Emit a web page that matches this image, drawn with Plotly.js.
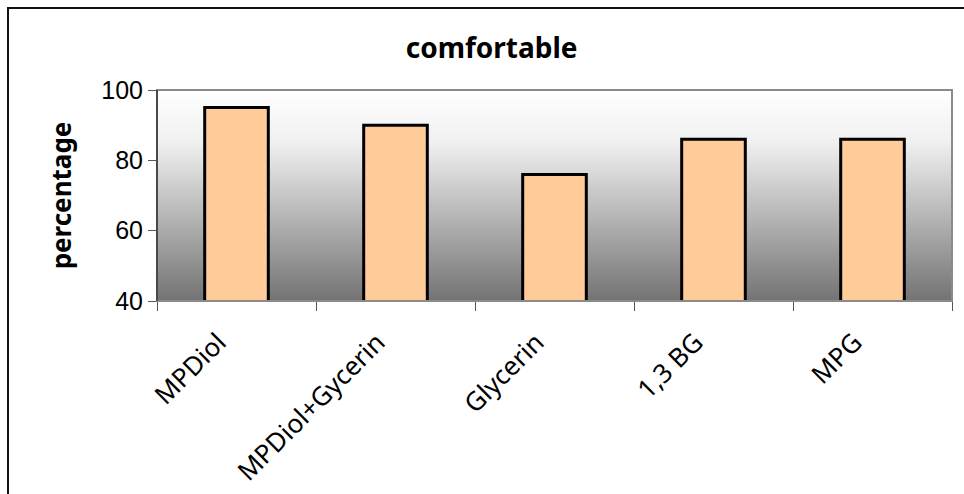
<!DOCTYPE html>
<html>
<head>
<meta charset="utf-8">
<script src="https://cdn.plot.ly/plotly-3.0.1.min.js"></script>
<style>
html,body{margin:0;padding:0;background:#fff;}
#wrap{position:relative;width:964px;height:494px;overflow:hidden;}
#chart{width:964px;height:494px;}
#frame{position:absolute;left:7px;top:7px;width:1000px;height:1000px;border:2px solid #111;pointer-events:none;}
</style>
</head>
<body>
<div id="wrap"><div id="chart"></div><div id="frame"></div></div>
<script>
var categories = ["MPDiol", "MPDiol+Gycerin", "Glycerin", "1,3 BG", "MPG"];
var values = [95, 90, 76, 86, 86];
var yTicks = [40, 60, 80, 100];

var grad = 'data:image/svg+xml;utf8,' + encodeURIComponent(
  '<svg xmlns="http://www.w3.org/2000/svg" width="100" height="100" preserveAspectRatio="none">' +
  '<defs><linearGradient id="g" x1="0" y1="0" x2="0" y2="1">' +
  '<stop offset="0" stop-color="#ffffff"/><stop offset="0.25" stop-color="#f0f0f0"/>' +
  '<stop offset="1" stop-color="#737373"/></linearGradient></defs>' +
  '<rect width="100" height="100" fill="url(#g)"/></svg>');

var trace = {
  type: 'bar',
  x: categories,
  y: values,
  width: 0.4,
  marker: {color: '#FFCC99', line: {color: '#000', width: 3}},
  hoverinfo: 'none'
};

var layout = {
  width: 964, height: 494,
  margin: {l: 157, r: 12, t: 90, b: 193},
  paper_bgcolor: '#fff',
  plot_bgcolor: 'rgba(0,0,0,0)',
  showlegend: false,
  title: {text: '<b>comfortable</b>', x: 0.51, xref: 'container', xanchor: 'center',
          y: 0.903, yref: 'container', yanchor: 'middle',
          font: {family: 'Noto Sans, Lato, sans-serif', size: 28, color: '#000'}},
  xaxis: {
    type: 'category', tickson: 'boundaries', ticks: 'outside', ticklen: 9, tickwidth: 1, tickcolor: '#555',
    tickangle: -45, tickfont: {family: 'Noto Sans, sans-serif', size: 26, color: '#000'},
    ticklabelstandoff: 20, ticklabelshift: -18,
    showline: false, showgrid: false, zeroline: false, fixedrange: true
  },
  yaxis: {
    range: [40, 100], tickvals: yTicks, ticks: 'outside', ticklen: 8, tickwidth: 1, tickcolor: '#555',
    tickfont: {family: 'Liberation Sans, Arial, sans-serif', size: 25, color: '#000'},
    showgrid: false, zeroline: false, showline: false, fixedrange: true,
    title: {text: '<b>percentage</b>', standoff: 22, font: {family: 'Noto Sans, Lato, sans-serif', size: 26, color: '#000'}}
  },
  images: [{source: grad, xref: 'paper', yref: 'paper', x: 0, y: 1, sizex: 1, sizey: 1,
            xanchor: 'left', yanchor: 'top', sizing: 'stretch', layer: 'below'}],
  shapes: [
    {type: 'rect', xref: 'paper', yref: 'paper', x0: 0, x1: 1, y0: 0, y1: 1,
     line: {color: '#8a8a8a', width: 2}, fillcolor: 'rgba(0,0,0,0)', layer: 'above'},
    {type: 'line', xref: 'paper', yref: 'paper', x0: 0, x1: 0, y0: 0, y1: 1,
     line: {color: '#333', width: 1.5}, layer: 'above'}
  ]
};

Plotly.newPlot('chart', [trace], layout, {staticPlot: true});
</script>
</body>
</html>
